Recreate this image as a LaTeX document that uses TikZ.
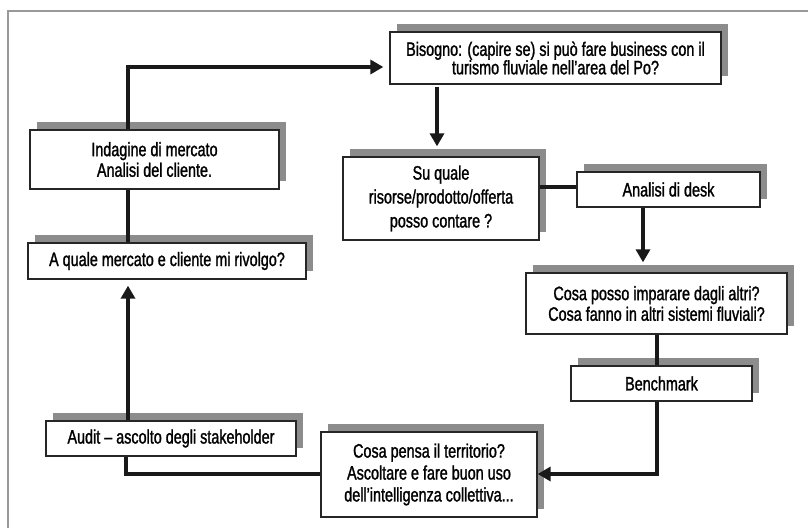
\documentclass[tikz,border=0pt]{standalone}
\usepackage{fontspec}
\setmainfont[FakeStretch=0.74,FakeBold=1.3]{Liberation Sans}
\usetikzlibrary{arrows.meta,shadows,calc}
\begin{document}
\begin{tikzpicture}[x=1bp,y=-1bp,
  box/.style={draw=black!85, line width=1.3bp, fill=white, align=center, inner sep=0pt,
    font=\fontsize{19.5}{20.7}\selectfont,
    copy shadow={shadow xshift=7bp, shadow yshift=8bp, fill=black!45, draw=none}},
  conn/.style={line width=4bp, draw=black!90},
  arr/.style={conn, -{Triangle[length=13bp,width=14bp]}}
]
\useasboundingbox (0,0) rectangle (808,528);
\fill[white] (0,0) rectangle (808,528);
\draw[black!40, line width=2bp] (8,528) -- (8,11) -- (808,11);

\node[box, minimum width=331bp, minimum height=52bp, font=\fontsize{19.5}{18.5}\selectfont] (bis) at (555.5,58)
  {Bisogno: (capire se) si può fare business con il\\turismo fluviale nell’area del Po?};
\node[box, minimum width=249bp, minimum height=59bp] (ind) at (154.5,159.5)
  {Indagine di mercato\\Analisi del cliente.};
\node[box, minimum width=278bp, minimum height=36bp] (aq) at (167,261)
  {A quale mercato e cliente mi rivolgo?};
\node[box, minimum width=196bp, minimum height=83bp, font=\fontsize{19.5}{24}\selectfont] (su) at (441,198.5)
  {Su quale\\risorse/prodotto/offerta\\posso contare ?};
\node[box, minimum width=183bp, minimum height=35bp] (desk) at (668.5,189.5)
  {Analisi di desk};
\node[box, minimum width=261bp, minimum height=61bp] (cosa) at (656.5,303.5)
  {Cosa posso imparare dagli altri?\\Cosa fanno in altri sistemi fluviali?};
\node[box, minimum width=181bp, minimum height=35bp] (bench) at (661.5,383.5)
  {Benchmark};
\node[box, minimum width=216bp, minimum height=85bp, font=\fontsize{19.5}{22}\selectfont] (pensa) at (429,474.5)
  {Cosa pensa il territorio?\\Ascoltare e fare buon uso\\dell’intelligenza collettiva...};
\node[box, minimum width=250bp, minimum height=35bp] (audit) at (171,438.5)
  {Audit – ascolto degli stakeholder};

\coordinate (c1) at (128,67);
\coordinate (c2) at (437,0);
\coordinate (c3) at (0,187);
\coordinate (c4) at (643,0);
\coordinate (c5) at (657,474);
\coordinate (c6) at (126,474);

\draw[arr, shorten >=6bp] (ind.north -| c1) -- (c1) -- (c1 -| bis.west);
\draw[conn] (ind.south -| c1) -- (aq.north -| c1);
\draw[arr, shorten <=2bp, shorten >=10bp] (bis.south -| c2) -- (su.north -| c2);
\draw[conn] (su.east |- c3) -- (desk.west |- c3);
\draw[arr, shorten >=10bp] (desk.south -| c4) -- (cosa.north -| c4);
\draw[conn] (cosa.south -| c5) -- (bench.north -| c5);
\draw[arr] (bench.south -| c5) -- (c5) -- (c5 -| pensa.east);
\draw[conn] (pensa.west |- c6) -- (c6) -- (audit.south -| c6);
\draw[arr, shorten >=6bp] (audit.north -| c1) -- (aq.south -| c1);
\end{tikzpicture}
\end{document}
